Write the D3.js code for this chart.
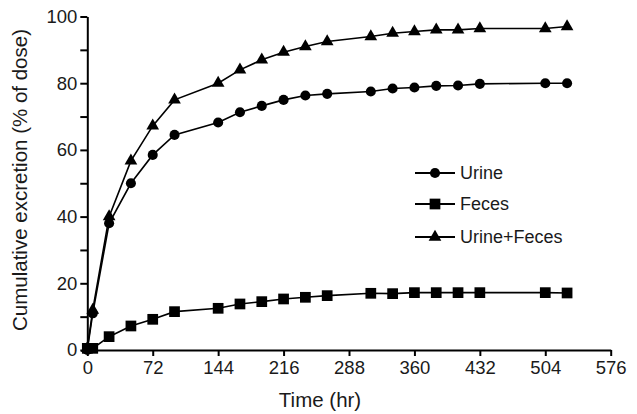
<!DOCTYPE html>
<html>
<head>
<meta charset="utf-8">
<script src="https://cdn.jsdelivr.net/npm/d3@7"></script>
<style>
  body { margin: 0; background: #fff; }
  svg { display: block; font-family: "Liberation Sans", Arial, sans-serif; }
</style>
</head>
<body>
<div class="chart"></div>
<script>
// sampling times (hr)
var times = [0, 6, 24, 48, 72, 96, 144, 168, 192, 216, 240, 264, 312, 336, 360, 384, 408, 432, 504, 528];
// cumulative excretion, % of dose
var urine = [0, 11, 38, 50, 58.5, 64.5, 68.2, 71.3, 73.2, 75, 76.3, 76.8, 77.5, 78.4, 78.7, 79.2, 79.3, 79.8, 80, 80];
var feces = [0.5, 0.5, 4, 7.2, 9.2, 11.5, 12.5, 13.8, 14.5, 15.3, 15.8, 16.3, 17, 16.9, 17.2, 17.2, 17.2, 17.2, 17.2, 17.1];
var total = [0.5, 12, 40, 56.7, 67.2, 75, 80, 84, 87, 89.3, 91, 92.5, 94, 95, 95.5, 96, 96, 96.4, 96.4, 97];
var seriesNames = ["Urine", "Feces", "Urine+Feces"];
var xTicks = [0, 72, 144, 216, 288, 360, 432, 504, 576];

var width = 637,
    height = 414;
var x = d3.scaleLinear().domain([0, 576]).range([87.3, 610.7]);
var y = d3.scaleLinear().domain([0, 100]).range([350, 16.5]);

var symbols = [
  d3.symbol().type(d3.symbolCircle).size(80),
  d3.symbol().type(d3.symbolSquare).size(115),
  d3.symbol().type(d3.symbolTriangle).size(70)
];
var series = [urine, feces, total];

var svg = d3.select(".chart").append("svg")
    .attr("width", width)
    .attr("height", height);

// axes
var yAxis = d3.axisLeft(y)
    .tickValues(d3.range(0, 101, 10))
    .tickSize(7)
    .tickSizeOuter(0)
    .tickFormat(function (d) { return d % 20 === 0 ? d : ""; });
var xAxis = d3.axisBottom(x)
    .tickValues(xTicks)
    .tickSize(6)
    .tickSizeOuter(0);

var gy = svg.append("g")
    .attr("transform", "translate(" + x(0) + ",0)")
    .call(yAxis);
var gx = svg.append("g")
    .attr("transform", "translate(0," + y(0) + ")")
    .call(xAxis);

[gx, gy].forEach(function (g) {
  g.select(".domain").attr("stroke", "#000").attr("stroke-width", 2);
  g.selectAll(".tick line").attr("stroke", "#000").attr("stroke-width", 2);
  g.selectAll(".tick text")
      .attr("fill", "#1a1a1a")
      .style("font-size", "18.5px")
      .style("font-family", "Liberation Sans, Arial, sans-serif");
});
gy.selectAll(".tick text").attr("x", -10);
gx.selectAll(".tick text").attr("y", 11);

// series lines and markers
var line = d3.line()
    .x(function (d, i) { return x(times[i]); })
    .y(function (d) { return y(d); });

series.forEach(function (vals, k) {
  svg.append("path")
      .datum(vals)
      .attr("fill", "none")
      .attr("stroke", "#000")
      .attr("stroke-width", 1.6)
      .attr("d", line);
  svg.append("g").selectAll("path")
      .data(vals)
      .enter().append("path")
      .attr("transform", function (d, i) {
        return "translate(" + x(times[i]) + "," + y(d) + ")";
      })
      .attr("d", symbols[k])
      .attr("fill", "#000");
});

// legend
var legend = svg.append("g")
    .attr("transform", "translate(415,173)");
seriesNames.forEach(function (name, k) {
  var row = legend.append("g")
      .attr("transform", "translate(0," + [0, 31, 64][k] + ")");
  row.append("line")
      .attr("x1", 0).attr("x2", 40)
      .attr("stroke", "#000").attr("stroke-width", 2);
  row.append("path")
      .attr("transform", "translate(20,0)")
      .attr("d", symbols[k])
      .attr("fill", "#000");
  row.append("text")
      .attr("x", 45)
      .attr("dy", "0.35em")
      .attr("fill", "#1a1a1a")
      .style("font-size", "18px")
      .text(name);
});

// axis titles
svg.append("text")
    .attr("x", 320)
    .attr("y", 407)
    .attr("text-anchor", "middle")
    .attr("fill", "#1a1a1a")
    .style("font-size", "20.5px")
    .text("Time (hr)");
svg.append("text")
    .attr("transform", "translate(27,180)rotate(-90)")
    .attr("text-anchor", "middle")
    .attr("fill", "#1a1a1a")
    .style("font-size", "20.5px")
    .text("Cumulative excretion (% of dose)");
</script>
</body>
</html>
